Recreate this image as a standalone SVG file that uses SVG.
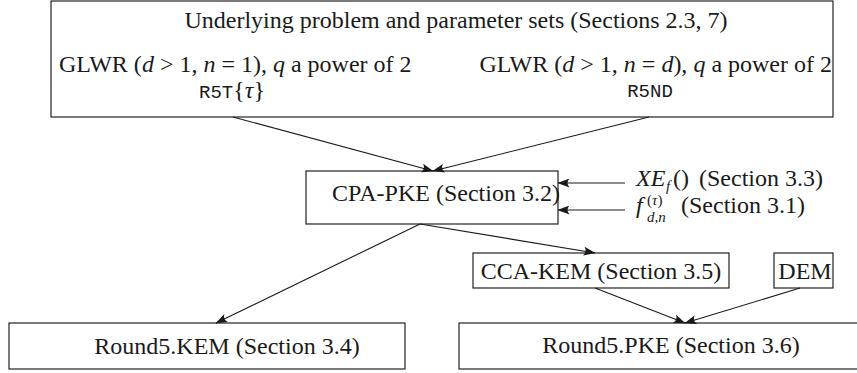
<svg xmlns="http://www.w3.org/2000/svg" width="857" height="373" viewBox="0 0 857 373">
<style>
  .box { fill: #ffffff; stroke: #222222; stroke-width: 1.2; }
  .t { font-family: "Liberation Serif", "Times New Roman", serif; font-size: 24px; fill: #1a1a1a; }
  .c { text-anchor: middle; }
  .m { font-family: "Liberation Mono", "Courier New", monospace; font-size: 19px; fill: #1a1a1a; }
  .i { font-style: italic; }
  .s { font-size: 15px; }
  .edge { fill: none; stroke: #1a1a1a; stroke-width: 1.1; marker-end: url(#arr); }
</style>
<defs>
  <marker id="arr" viewBox="0 0 12 9" refX="11.5" refY="4.5" markerWidth="12" markerHeight="9" markerUnits="userSpaceOnUse" orient="auto">
    <path d="M12,4.5 L0,0 Q4,4.5 0,9 Z" fill="#1a1a1a"/>
  </marker>
</defs>
<rect width="857" height="373" fill="#ffffff"/>

<g id="underlying">
  <rect class="box" x="51" y="1" width="782" height="116"/>
  <text class="t c" x="456" y="28">Underlying problem and parameter sets (Sections 2.3, 7)</text>
  <text class="t" x="59" y="72">GLWR (<tspan class="i">d</tspan> &gt; 1, <tspan class="i">n</tspan> = 1), <tspan class="i">q</tspan> a power of 2</text>
  <text x="232" y="98" text-anchor="middle"><tspan class="m">R5T</tspan><tspan class="t">{</tspan><tspan class="t i">τ</tspan><tspan class="t">}</tspan></text>
  <text class="t" x="832" y="72" text-anchor="end">GLWR (<tspan class="i">d</tspan> &gt; 1, <tspan class="i">n</tspan> = <tspan class="i">d</tspan>), <tspan class="i">q</tspan> a power of 2</text>
  <text class="m c" x="650" y="97">R5ND</text>
</g>

<g id="cpa">
  <rect class="box" x="306" y="171" width="252" height="53"/>
  <text class="t c" x="446" y="201">CPA-PKE (Section 3.2)</text>
</g>

<g id="xef">
  <text class="t i" x="636" y="186">XE</text>
  <text class="t i s" x="666" y="191">f</text>
  <text class="t" x="673" y="186">()</text>
  <text class="t" x="699" y="186">(Section 3.3)</text>
</g>

<g id="fdn">
  <text class="t i" x="636" y="213">f</text>
  <text class="t" x="647" y="205" style="font-size:15px">(<tspan class="i">τ</tspan>)</text>
  <text class="t i" x="647" y="222" style="font-size:15px">d,n</text>
  <text class="t" x="681" y="213">(Section 3.1)</text>
</g>

<g id="cca">
  <rect class="box" x="473" y="253" width="256" height="35"/>
  <text class="t c" x="601" y="279">CCA-KEM (Section 3.5)</text>
</g>

<g id="dem">
  <rect class="box" x="774" y="253" width="59" height="35"/>
  <text class="t c" x="805" y="279">DEM</text>
</g>

<g id="kem">
  <rect class="box" x="9" y="323" width="396" height="46"/>
  <text class="t c" x="227" y="354">Round5.KEM (Section 3.4)</text>
</g>

<g id="pke">
  <rect class="box" x="459" y="323" width="405" height="46"/>
  <text class="t c" x="671" y="353">Round5.PKE (Section 3.6)</text>
</g>

<g id="connectors">
  <line class="edge" x1="233" y1="117" x2="433" y2="171"/>
  <line class="edge" x1="649" y1="117" x2="433" y2="171"/>
  <line class="edge" x1="625" y1="183" x2="558" y2="183"/>
  <line class="edge" x1="625" y1="210" x2="558" y2="210"/>
  <line class="edge" x1="420" y1="224" x2="216" y2="323"/>
  <line class="edge" x1="420" y1="224" x2="595" y2="253"/>
  <line class="edge" x1="595" y1="288" x2="685" y2="323"/>
  <line class="edge" x1="800" y1="288" x2="685" y2="323"/>
</g>
</svg>
